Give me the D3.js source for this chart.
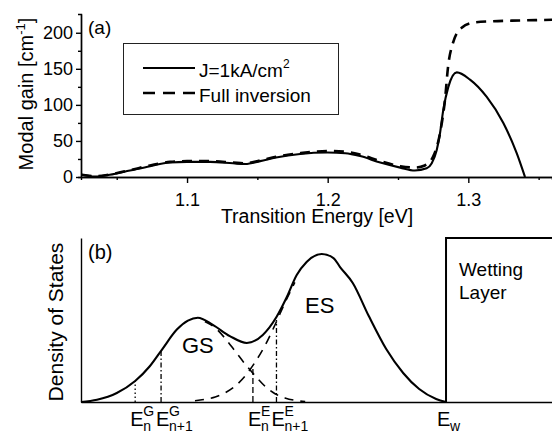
<!DOCTYPE html>
<html>
<head>
<meta charset="utf-8">
<script src="https://cdn.jsdelivr.net/npm/d3@7"></script>
<style>
  body { margin: 0; background: #fff; }
  svg text { font-family: "Liberation Sans", Arial, sans-serif; fill: #000; }
</style>
</head>
<body>
<div class="gainViz"></div>
<script>
// ---- panel (a): modal gain vs transition energy
var gainEnergy = [1.0250, 1.0345, 1.0450, 1.0594, 1.0737, 1.0879, 1.1000, 1.1164, 1.1327, 1.1413,
                  1.1520, 1.1633, 1.1804, 1.2000, 1.2125, 1.2231, 1.2374, 1.2516, 1.2620, 1.2704,
                  1.2740, 1.2775, 1.2799, 1.2822, 1.2858, 1.2918, 1.3012, 1.3131, 1.3249, 1.3344, 1.3403];
var gainJ1 =     [3, 0.5, 3, 9, 15, 20, 21, 21, 19, 18,
                  22, 27, 32, 34, 33, 29, 20, 13, 9, 12,
                  19, 37, 61, 93, 125, 145, 135, 111, 75, 33, 0];

var fullEnergy = [1.0250, 1.0345, 1.0450, 1.0594, 1.0737, 1.0879, 1.1000, 1.1164, 1.1327, 1.1413,
                  1.1520, 1.1633, 1.1804, 1.2000, 1.2125, 1.2231, 1.2374, 1.2516, 1.2620, 1.2690,
                  1.2749, 1.2799, 1.2834, 1.2856, 1.2891, 1.2953, 1.3033, 1.3176, 1.3368, 1.3595];
var gainFull =   [3, 1, 3.5, 9.5, 16, 21, 22, 22, 20, 19,
                  23, 28, 33, 36, 35, 31, 22, 15, 13, 16,
                  28, 61, 107, 153, 186, 207, 214, 216, 217, 218];

var gainTicks = [0, 50, 100, 150, 200],
    gainMinor = [25, 75, 125, 175],
    energyTicks = [1.1, 1.2, 1.3],
    energyMinor = [1.05, 1.15, 1.25, 1.35];

var seriesNames = ["J=1kA/cm", "Full inversion"];

// ---- panel (b): density of states (arbitrary units, 0..100)
var dosX =     [0, 3.4, 7.6, 11.5, 14.6, 17.2, 20.4, 22.7, 24.8, 28.0, 31.6, 35.2, 38.6, 41.5,
                43.7, 45.8, 47.9, 51.1, 53.6, 55.0, 57.7, 61.1, 64.8, 68.4, 71.8, 75.4, 77.5];
var dosTotal = [0, 1.4, 5.5, 12.8, 21.8, 32, 44.3, 49.6, 51.4, 47.0, 40.2, 36.0, 40.9, 51.8,
                64.0, 77.4, 85.4, 90.2, 87.8, 82.3, 72.6, 52.4, 32.3, 17.7, 7.9, 1.8, 0];

var gsX =    [26.3, 28.5, 30.6, 32.7, 34.8, 36.9, 39.1, 41.2, 43.3, 45.4, 47.6];
var gsComp = [49.1, 45.2, 38.8, 31.1, 23.3, 16.2, 9.5, 5.0, 2.5, 1.0, 0.3];

var esX =    [24.2, 26.3, 28.5, 30.6, 32.7, 34.8, 36.9, 39.1, 41.2, 43.3, 45.4];
var esComp = [0.8, 1.6, 3.0, 5.6, 9.6, 15.7, 24, 34.6, 47.1, 60.5, 73];

var wettingEdge = 77.5;

var markerX =   [11.5, 17.0, 36.5, 41.5];
var markerTop = [12.8, 31, 21, 50];
var markerSup = ["G", "G", "E", "E"];
var markerSub = ["n", "n+1", "n", "n+1"];

var width = 552,
    height = 432;

var svg = d3.select(".gainViz").append("svg")
    .attr("width", width)
    .attr("height", height);

var xA = d3.scaleLinear().domain([1.0246, 1.3595]).range([81, 552]),
    yA = d3.scaleLinear().domain([0, 226]).range([177, 14]);

var xB = d3.scaleLinear().domain([0, 100]).range([81, 552]),
    yB = d3.scaleLinear().domain([0, 100]).range([402, 238]);

function styleAxis(g, size) {
  g.attr("font-family", null).attr("font-size", size);
  g.selectAll("path, line").attr("stroke", "#000").attr("stroke-width", 1.4);
  return g;
}

// ---- panel (a) axes
svg.append("g")
    .attr("transform", "translate(81,0)")
    .call(d3.axisLeft(yA).tickValues(gainMinor).tickSize(3).tickFormat(""))
    .call(styleAxis, 18);
svg.append("g")
    .attr("transform", "translate(81,0)")
    .call(d3.axisLeft(yA).tickValues(gainTicks).tickSize(5).tickPadding(3).tickSizeOuter(0))
    .call(styleAxis, 18);

svg.append("g")
    .attr("transform", "translate(0,177)")
    .call(d3.axisBottom(xA).tickValues(energyMinor).tickSize(3).tickFormat(""))
    .call(styleAxis, 18);
svg.append("g")
    .attr("transform", "translate(0,177)")
    .call(d3.axisBottom(xA).tickValues(energyTicks).tickSize(6).tickPadding(10)
      .tickFormat(d3.format(".1f")).tickSizeOuter(0))
    .call(styleAxis, 18);

svg.append("text")
    .attr("x", 317).attr("y", 223)
    .attr("text-anchor", "middle")
    .attr("font-size", 19.5)
    .text("Transition Energy [eV]");

var yTitle = svg.append("text")
    .attr("transform", "translate(33,94) rotate(-90)")
    .attr("text-anchor", "middle")
    .attr("font-size", 20)
    .text("Modal gain [cm");
yTitle.append("tspan").attr("font-size", 13).attr("dy", -8).text("-1");
yTitle.append("tspan").attr("dy", 8).text("]");

svg.append("text")
    .attr("x", 88).attr("y", 34)
    .attr("font-size", 19)
    .text("(a)");

// ---- panel (a) curves
var lineA = d3.line()
    .x(function(d) { return xA(d[0]); })
    .y(function(d) { return yA(d[1]); })
    .curve(d3.curveMonotoneX);

svg.append("path")
    .datum(d3.zip(fullEnergy, gainFull))
    .attr("d", lineA)
    .style("fill", "none")
    .style("stroke", "#000")
    .style("stroke-width", 2.6)
    .style("stroke-dasharray", "10,7");

svg.append("path")
    .datum(d3.zip(gainEnergy, gainJ1))
    .attr("d", lineA)
    .style("fill", "none")
    .style("stroke", "#000")
    .style("stroke-width", 2.1);

// legend
var legend = svg.append("g");
legend.append("rect")
    .attr("x", 123.5).attr("y", 43.5)
    .attr("width", 215).attr("height", 71)
    .style("fill", "#fff")
    .style("stroke", "#222")
    .style("stroke-width", 1);

legend.selectAll("line.key")
    .data(seriesNames)
  .enter().append("line")
    .attr("class", "key")
    .attr("x1", 143).attr("x2", 195)
    .attr("y1", function(d, i) { return 68 + i * 25; })
    .attr("y2", function(d, i) { return 68 + i * 25; })
    .style("stroke", "#000")
    .style("stroke-width", function(d, i) { return i ? 2.6 : 2.1; })
    .style("stroke-dasharray", function(d, i) { return i ? "12,8" : null; });

var keyText = legend.selectAll("text.key")
    .data(seriesNames)
  .enter().append("text")
    .attr("class", "key")
    .attr("x", 199)
    .attr("y", function(d, i) { return 77 + i * 25; })
    .attr("font-size", 19)
    .text(function(d) { return d; });
keyText.filter(function(d, i) { return i === 0; })
  .append("tspan").attr("font-size", 12).attr("dy", -9).text("2");

// ---- panel (b) axes
svg.append("g")
    .attr("transform", "translate(81,0)")
    .call(d3.axisLeft(yB).tickValues([]).tickSizeOuter(0))
    .call(styleAxis, 18);
svg.append("g")
    .attr("transform", "translate(0,402)")
    .call(d3.axisBottom(xB).tickValues([]).tickSizeOuter(0))
    .call(styleAxis, 18);

svg.append("text")
    .attr("transform", "translate(63,322) rotate(-90)")
    .attr("text-anchor", "middle")
    .attr("font-size", 21)
    .text("Density of States");

svg.append("text")
    .attr("x", 88).attr("y", 259)
    .attr("font-size", 20)
    .text("(b)");

var lineB = d3.line()
    .x(function(d) { return xB(d[0]); })
    .y(function(d) { return yB(d[1]); })
    .curve(d3.curveMonotoneX);

// GS / ES components
[d3.zip(gsX, gsComp), d3.zip(esX, esComp)].forEach(function(pts) {
  svg.append("path")
      .datum(pts)
      .attr("d", lineB)
      .style("fill", "none")
      .style("stroke", "#000")
      .style("stroke-width", 1.6)
      .style("stroke-dasharray", "9,7");
});

svg.append("path")
    .datum(d3.zip(dosX, dosTotal))
    .attr("d", lineB)
    .style("fill", "none")
    .style("stroke", "#000")
    .style("stroke-width", 2.1);

// wetting layer step
svg.append("path")
    .datum([[wettingEdge, 0], [wettingEdge, 100], [100, 100]])
    .attr("d", d3.line().x(function(d) { return xB(d[0]); }).y(function(d) { return yB(d[1]); }))
    .style("fill", "none")
    .style("stroke", "#000")
    .style("stroke-width", 2);

svg.append("text").attr("x", xB(wettingEdge) + 13).attr("y", 276)
    .attr("font-size", 19).text("Wetting");
svg.append("text").attr("x", xB(wettingEdge) + 13).attr("y", 299)
    .attr("font-size", 19).text("Layer");

svg.append("text").attr("x", 182).attr("y", 353).attr("font-size", 22).text("GS");
svg.append("text").attr("x", 305).attr("y", 313).attr("font-size", 22).text("ES");

// energy level markers
var dashes = ["1.5,2.5", "5,2.5,1.5,2.5", "6,3", "5,2.5,1.5,2.5"];
svg.selectAll("line.marker")
    .data(markerX)
  .enter().append("line")
    .attr("class", "marker")
    .attr("x1", function(d) { return xB(d); })
    .attr("x2", function(d) { return xB(d); })
    .attr("y1", yB(0))
    .attr("y2", function(d, i) { return yB(markerTop[i]); })
    .style("stroke", "#000")
    .style("stroke-width", 1.3)
    .style("stroke-dasharray", function(d, i) { return dashes[i]; });

var labels = svg.selectAll("g.mlabel")
    .data(markerX.concat([wettingEdge]))
  .enter().append("g")
    .attr("class", "mlabel")
    .attr("transform", function(d, i) { return "translate(" + (xB(d) - (i === 4 ? 9 : 5)) + ",0)"; });
labels.append("text").attr("y", 426).attr("font-size", 20).text("E");
labels.append("text").attr("x", 13).attr("y", 416).attr("font-size", 14)
    .text(function(d, i) { return markerSup[i] || ""; });
labels.append("text").attr("x", 13).attr("y", 431).attr("font-size", 14)
    .text(function(d, i) { return i === 4 ? "w" : markerSub[i]; });
</script>
</body>
</html>
